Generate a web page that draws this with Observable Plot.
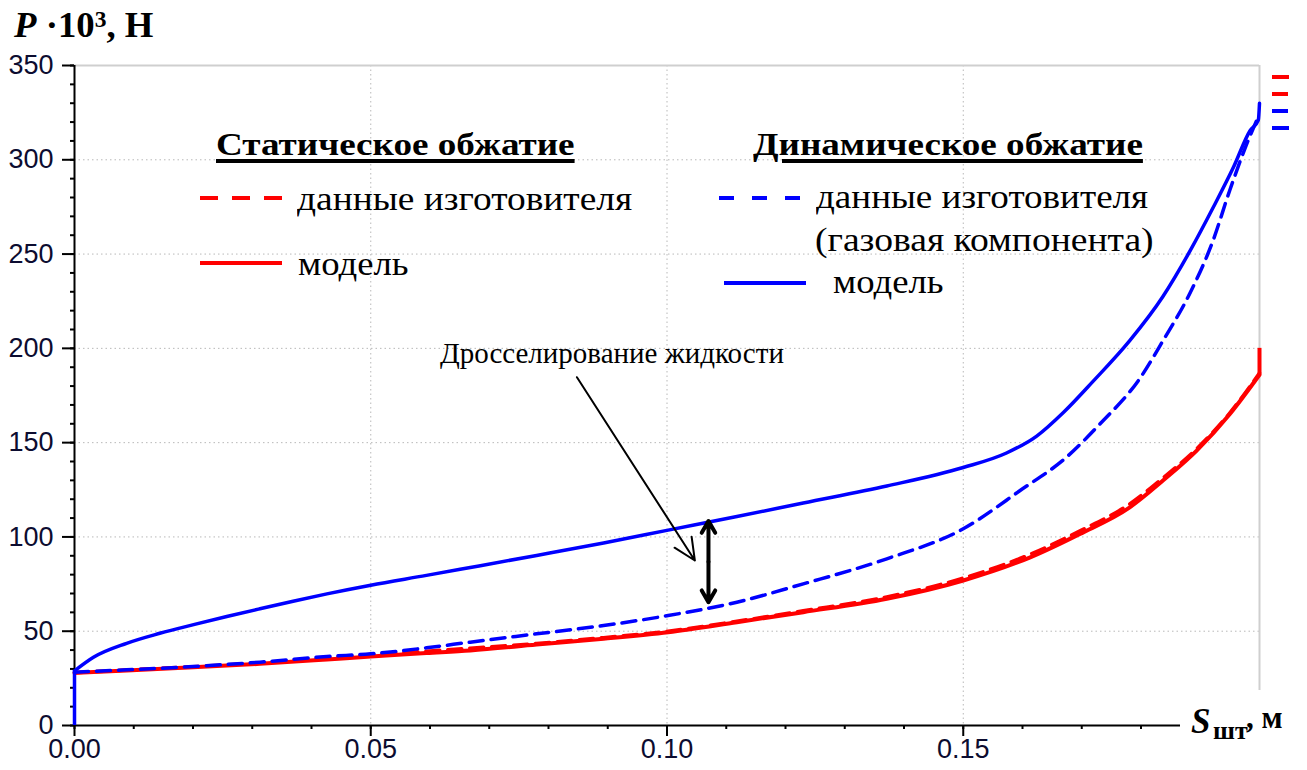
<!DOCTYPE html>
<html><head><meta charset="utf-8">
<script src="https://cdn.jsdelivr.net/npm/d3@7"></script>
<script src="https://cdn.jsdelivr.net/npm/@observablehq/plot@0.6"></script>
<style>
body{margin:0;background:#fff;}
#wrap{position:relative;width:1307px;height:770px;overflow:hidden;background:#fff;}
.t{position:absolute;white-space:nowrap;line-height:1;font-family:"Liberation Serif","Times New Roman",serif;color:#000;transform-origin:0 0;}
.sw{position:absolute;height:4px;}
</style></head><body><div id="wrap"></div>
<script>
// ---- data ----
const xTicks = [0, 0.05, 0.10, 0.15];
const yTicks = [0, 50, 100, 150, 200, 250, 300, 350];
const xMinorTicks = d3.range(0, 0.2001, 0.01);
const yMinorTicks = d3.range(0, 351, 10);
const xGrid = [0.05, 0.10, 0.15];
const yGrid = [50, 100, 150, 200, 250, 300];

// Static compression – model (red solid)
const staticModelS = [0, 0.0088, 0.02, 0.0313, 0.0426, 0.05, 0.0594, 0.0668, 0.078, 0.0893, 0.1002, 0.1118, 0.123, 0.1371, 0.15, 0.1613, 0.1697, 0.1781, 0.1837, 0.1894, 0.195, 0.2, 0.2];
const staticModelP = [27.9, 29.2, 30.9, 32.7, 35.0, 36.6, 38.4, 39.8, 42.9, 46.0, 49.5, 54.8, 60.1, 67.2, 76.9, 89.2, 101.6, 115.7, 129.9, 145.8, 165.2, 186, 200];
// Static compression – manufacturer data (red dashed)
const staticMfrS = [0, 0.0088, 0.02, 0.0313, 0.0426, 0.05, 0.0594, 0.0668, 0.078, 0.0893, 0.1002, 0.1118, 0.123, 0.1371, 0.15, 0.1613, 0.1697, 0.1781, 0.1837, 0.1894, 0.195, 0.2];
const staticMfrP = [28.0, 29.4, 31.2, 33.2, 35.9, 37.6, 39.4, 41.0, 43.5, 46.6, 50.0, 55.3, 60.8, 68.2, 78.2, 90.8, 103.2, 117.5, 131.3, 146.8, 165.8, 187];
// Dynamic compression – model (blue solid)
const dynModelS = [0, 0, 0.0032, 0.0088, 0.0144, 0.0201, 0.0257, 0.0313, 0.0369, 0.0426, 0.05, 0.0594, 0.0668, 0.078, 0.0893, 0.1002, 0.1118, 0.123, 0.1371, 0.15, 0.1573, 0.1624, 0.1669, 0.1719, 0.1781, 0.1837, 0.1883, 0.1922, 0.1956, 0.1984, 0.1998, 0.2];
const dynModelP = [0, 29, 36.2, 43.6, 48.9, 53.5, 57.8, 61.9, 65.9, 69.8, 74.4, 79.6, 83.8, 90.2, 96.8, 103.6, 110.8, 118.0, 127.0, 136.8, 144.5, 153.5, 166.0, 182.5, 204.1, 227.5, 251.8, 274.8, 296.0, 315.4, 321, 330];
// Dynamic compression – manufacturer data, gas component (blue dashed)
const dynMfrS = [0, 0.0088, 0.02, 0.0313, 0.0426, 0.05, 0.0594, 0.0668, 0.078, 0.0893, 0.1002, 0.1118, 0.123, 0.1371, 0.15, 0.1596, 0.1674, 0.1731, 0.1798, 0.1837, 0.1883, 0.1922, 0.195, 0.1978, 0.2];
const dynMfrP = [28.3, 29.5, 31.3, 33.6, 36.6, 38.0, 41.2, 44.2, 48.6, 53.0, 58.3, 65.4, 75.1, 88.4, 104.3, 124.6, 142.2, 160.0, 184.0, 204.0, 229.5, 257.5, 284.0, 308.0, 324.3];

// Annotation
const annotText = ["Дросселирование жидкости"];
const annotTextS = [0.0907];
const annotTextP = [197.4];
const annotArrowFrom = [0.0848, 184.7];
const annotArrowTo = [0.1047, 87.5];
const gapArrowS = [0.107];
const gapArrowLow = [65.4];
const gapArrowHigh = [108.4];

// ---- build tables ----
const tbl = (xs, ys) => xs.map((s, i) => ({S: s, P: ys[i]}));
// separate vertical end segments (same S twice) from the smooth curve part
function split(t) {
  let c = t.slice();
  const verts = [];
  if (c.length > 1 && c[0].S === c[1].S) { verts.push({S: c[0].S, P1: c[0].P, P2: c[1].P}); c = c.slice(1); }
  const n = c.length;
  if (n > 1 && c[n - 1].S === c[n - 2].S) { verts.push({S: c[n - 1].S, P1: c[n - 2].P, P2: c[n - 1].P}); c = c.slice(0, -1); }
  return {c, verts};
}
const staticModel = split(tbl(staticModelS, staticModelP));
const staticMfr = split(tbl(staticMfrS, staticMfrP));
const dynModel = split(tbl(dynModelS, dynModelP));
const dynMfr = split(tbl(dynMfrS, dynMfrP));
const labels = annotText.map((t, i) => ({t, S: annotTextS[i], P: annotTextP[i]}));
const arrow1 = [{x1: annotArrowFrom[0], y1: annotArrowFrom[1], x2: annotArrowTo[0], y2: annotArrowTo[1]}];
const gapArrows = gapArrowS.flatMap((s, i) => {
  const mid = (gapArrowLow[i] + gapArrowHigh[i]) / 2;
  return [{x: s, y1: mid, y2: gapArrowHigh[i]}, {x: s, y1: mid, y2: gapArrowLow[i]}];
});

const tickColor = "#0c0c30";
const axisFont = "Liberation Sans, Arial, sans-serif";

function series(s, color, width, dash) {
  return [
    Plot.line(s.c, {x: "S", y: "P", stroke: color, strokeWidth: width, strokeDasharray: dash, curve: "monotone-x"}),
    Plot.ruleX(s.verts, {x: "S", y1: "P1", y2: "P2", stroke: color, strokeWidth: width})
  ];
}

const chart = Plot.plot({
  width: 1307,
  height: 770,
  marginLeft: 74,
  marginRight: 48,
  marginTop: 65,
  marginBottom: 45,
  style: {background: "transparent", overflow: "visible", fontFamily: axisFont},
  x: {domain: [0, 0.2], label: null},
  y: {domain: [0, 350], label: null},
  marks: [
    Plot.gridX(xGrid, {stroke: "#b8b8b8", strokeOpacity: 1, strokeDasharray: "1.5,3"}),
    Plot.gridY(yGrid, {stroke: "#b8b8b8", strokeOpacity: 1, strokeDasharray: "1.5,3"}),
    Plot.ruleY([350], {stroke: "#cfcfcf", strokeWidth: 2}),
    Plot.ruleX([0.2], {stroke: "#cfcfcf", strokeWidth: 2}),
    Plot.axisY(yMinorTicks, {tickSize: 4, tickFormat: () => "", strokeWidth: 2, stroke: "black", label: null}),
    Plot.axisX(xMinorTicks, {tickSize: 4, tickFormat: () => "", strokeWidth: 2, stroke: "black", label: null}),
    Plot.axisY(yTicks, {tickSize: 12, tickPadding: 9, strokeWidth: 2, stroke: "black", fill: tickColor, fontSize: 27, fontFamily: axisFont, label: null, tickFormat: d => String(d)}),
    Plot.axisX(xTicks, {tickSize: 11, tickPadding: 2, strokeWidth: 2, stroke: "black", fill: tickColor, fontSize: 27, fontFamily: axisFont, label: null, tickFormat: d3.format(".2f")}),
    Plot.ruleX([0], {stroke: "black", strokeWidth: 2}),
    Plot.ruleY([0], {stroke: "black", strokeWidth: 2}),
    ...series(staticModel, "#ff0000", 4),
    ...series(staticMfr, "#ff0000", 3.5, "14,8"),
    ...series(dynModel, "#0000ff", 3.5),
    ...series(dynMfr, "#0000ff", 3.5, "14,8"),
    Plot.arrow(arrow1, {x1: "x1", y1: "y1", x2: "x2", y2: "y2", stroke: "black", strokeWidth: 2, headLength: 18, headAngle: 50}),
    Plot.arrow(gapArrows, {x1: "x", x2: "x", y1: "y1", y2: "y2", stroke: "black", strokeWidth: 4, headLength: 15, headAngle: 60}),
    Plot.text(labels, {x: "S", y: "P", text: "t", fontFamily: "Liberation Serif, Times New Roman, serif", fontSize: 29, fill: "black", textAnchor: "middle"})
  ]
});

const wrap = document.getElementById("wrap");
wrap.appendChild(chart);

function addText(html, left, baseline, size, extra, sx) {
  const d = document.createElement("div");
  d.className = "t";
  d.style.left = left + "px";
  d.style.top = (baseline - 0.8375 * size) + "px";
  d.style.fontSize = size + "px";
  if (sx) d.style.transform = `scaleX(${sx})`;
  Object.assign(d.style, extra || {});
  d.innerHTML = html;
  wrap.appendChild(d);
  return d;
}
function addSwatch(left, top, width, color, dash, gap) {
  const d = document.createElement("div");
  d.className = "sw";
  d.style.left = left + "px";
  d.style.top = (top - 2) + "px";
  d.style.width = width + "px";
  d.style.background = dash ? `repeating-linear-gradient(to right, ${color} 0 ${dash}px, transparent ${dash}px ${dash + gap}px)` : color;
  wrap.appendChild(d);
}

// y-axis title
addText('<i>P</i> ·10<span style="position:relative;top:-0.42em;font-size:0.64em">3</span>, Н', 14, 37, 35, {fontWeight: "bold"}, 1.05);

// x-axis title with white box
const box = document.createElement("div");
box.style.cssText = "position:absolute;left:1180px;top:690px;width:127px;height:80px;background:#fff;";
wrap.appendChild(box);
addText('<i>S</i>', 1191, 733, 35, {fontWeight: "bold"});
addText('шт', 1213, 740, 26, {fontWeight: "bold"});
addText(', м', 1246, 728, 31, {fontWeight: "bold"});

// legend – static
const hdr = {fontWeight: "bold", textDecoration: "underline", textDecorationThickness: "4px", textUnderlineOffset: "4px"};
addText("Статическое обжатие", 216, 155, 32, hdr, 1.16);
addSwatch(200, 198, 82, "#ff0000", 18, 14);
addText("данные изготовителя", 297, 210, 34, null, 1.1);
addSwatch(200, 263, 82, "#ff0000");
addText("модель", 298, 275, 34, null, 1.08);

// legend – dynamic
addText("Динамическое обжатие", 753, 155, 32, hdr, 1.16);
addSwatch(719, 198, 82, "#0000ff", 15, 18);
addText("данные изготовителя", 816, 208, 34, null, 1.09);
addText("(газовая компонента)", 815, 251, 34, null, 1.105);
addSwatch(724, 283, 82, "#0000ff");
addText("модель", 833, 293, 34, null, 1.08);

// small legend remnants at top right
addSwatch(1272, 77, 17, "#ff0000");
addSwatch(1272, 94, 16, "#ff0000");
addSwatch(1272, 111, 16, "#0000ff");
addSwatch(1272, 128, 17, "#0000ff");
</script></body></html>
